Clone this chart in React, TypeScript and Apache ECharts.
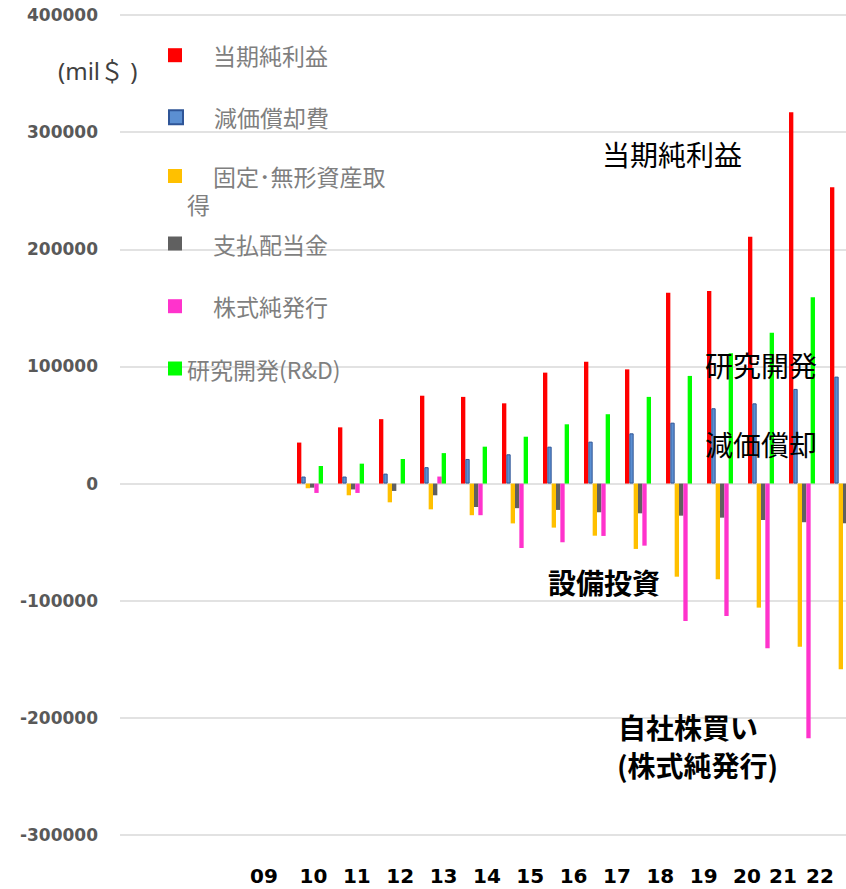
import React, { useEffect, useRef } from 'react';
import * as echarts from 'echarts';

// Fiscal years (20xx) on the category axis
const years = ['09', '10', '11', '12', '13', '14', '15', '16', '17', '18', '19', '20', '21', '22'];

// Values in million US$
const netIncome = [35000, 48000, 55000, 75000, 74000, 68500, 94700, 104000, 97500, 163000, 164400, 210800, 317000, 253000];
const depreciation = [6000, 6000, 8500, 14000, 21000, 25000, 31500, 35800, 42900, 52000, 64300, 68500, 80800, 91300];
const capex = [-4000, -10000, -16000, -22000, -27000, -34000, -37600, -44500, -55800, -79500, -81700, -105900, -139200, -158500];
const dividends = [-3500, -5000, -6300, -10000, -20000, -21000, -22500, -24500, -25400, -27400, -29100, -31100, -33000, -33900];
const netIssuance = [-8000, -8000, 0, 6000, -27000, -55000, -50100, -44700, -53000, -117300, -113000, -140600, -217400, -205000];
const rnd = [15000, 17000, 21000, 26000, 31500, 40000, 50600, 59200, 74000, 91900, 111200, 128800, 159000, 195000];

const seriesNames = ['当期純利益', '減価償却費', '固定･無形資産取得', '支払配当金', '株式純発行', '研究開発(R&D)'];
const seriesValues = [netIncome, depreciation, capex, dividends, netIssuance, rnd];
const seriesColors = ['#ff0000', '#5b8fd2', '#ffc000', '#606060', '#ff33cc', '#00ff00'];

const unitLabel = '(mil＄ )';
const notes = ['当期純利益', '研究開発', '減価償却', '設備投資', '自社株買い', '(株式純発行)'];

// horizontal nudges of individual year labels (px, negative = left)
const labelShift = [-6.2, 0, 0, 0, 0, 0, 0, 0, 0, 0, 0, 0, -7.4, -13.7];

export default function App() {
  const ref = useRef<HTMLDivElement>(null);

  useEffect(() => {
    if (!ref.current) return;
    const chart = echarts.init(ref.current, null, { renderer: 'svg' });

    const legendTops = [43.7, 105.7, 134, 232, 294.7, 357];
    const legends = seriesNames.map((name, i) => ({
      data: [name],
      left: 168,
      top: legendTops[i],
      orient: 'vertical',
      padding: 0,
      itemWidth: 14,
      itemHeight: 14,
      icon: 'rect',
      selectedMode: false,
      formatter: i === 2 ? '\n{i|固定･無形資産取}\n得' : i === 5 ? '{name}' : '{i|{name}}',
      textStyle: {
        color: '#7f7f7f',
        fontSize: 23,
        fontFamily: 'Noto Sans CJK JP',
        lineHeight: i === 2 ? 28 : 14,
        rich: { i: { padding: [0, 0, 0, 26] } },
      },
    }));

    const labelRich: Record<string, any> = {};
    labelShift.forEach((d, i) => {
      labelRich['s' + i] = { padding: d < 0 ? [0, -2 * d, 0, 0] : [0, 0, 0, 2 * d] };
    });

    const noteStyle = (text: string, x: number, y: number, bold: boolean) => ({
      type: 'text',
      x,
      y,
      z: 100,
      style: {
        text,
        fontSize: 28,
        fontFamily: 'Noto Sans CJK JP',
        fontWeight: bold ? 'bold' : 'normal',
        fill: '#000000',
        verticalAlign: 'middle',
      },
    });

    const option: any = {
      animation: false,
      backgroundColor: '#ffffff',
      grid: [
        { left: 120, top: 15, width: 726, height: 820, outerBoundsMode: 'none' },
        { left: 289.5, top: 15, width: 574, height: 820, outerBoundsMode: 'none' },
        { left: 248.5, top: 835, width: 606.9, height: 1, outerBoundsMode: 'none' },
      ],
      xAxis: [
        { gridIndex: 0, type: 'value', min: 0, max: 1, show: false },
        { gridIndex: 1, type: 'category', data: years, show: false },
        {
          gridIndex: 2,
          type: 'category',
          data: years,
          axisLine: { show: false },
          axisTick: { show: false },
          axisLabel: {
            margin: 39.5,
            verticalAlign: 'middle',
            fontFamily: 'DejaVu Sans',
            fontWeight: 'bold',
            fontSize: 20,
            color: '#000000',
            interval: 0,
            formatter: (v: string, i: number) => `{s${i}|${v}}`,
            rich: labelRich,
          },
        },
      ],
      yAxis: [
        {
          gridIndex: 0,
          type: 'value',
          min: -300000,
          max: 400000,
          interval: 100000,
          axisLine: { show: false },
          axisTick: { show: false },
          splitLine: { lineStyle: { color: '#d9d9d9', width: 1.5 } },
          axisLabel: {
            margin: 22,
            fontFamily: 'DejaVu Sans',
            fontWeight: 'bold',
            fontSize: 17,
            color: '#595959',
            formatter: (v: number) => String(v),
          },
        },
        { gridIndex: 1, type: 'value', min: -300000, max: 400000, interval: 100000, show: false },
        { gridIndex: 2, type: 'value', show: false },
      ],
      legend: legends,
      series: seriesNames.map((name, i) => ({
        name,
        type: 'bar',
        xAxisIndex: 1,
        yAxisIndex: 1,
        data: seriesValues[i],
        barWidth: 4.33,
        barGap: '0%',
        itemStyle: i === 1
          ? { color: seriesColors[i], borderColor: '#2f5597', borderWidth: 1 }
          : { color: seriesColors[i] },
      })),
      graphic: {
        elements: [
          {
            type: 'text',
            x: 58,
            y: 70,
            z: 100,
            style: {
              text: unitLabel,
              fontSize: 24,
              fontFamily: 'Noto Sans, Noto Sans CJK JP',
              fill: '#404040',
              verticalAlign: 'middle',
            },
          },
          noteStyle(notes[0], 602, 154, false),
          noteStyle(notes[1], 705, 365, false),
          noteStyle(notes[2], 705, 444, false),
          noteStyle(notes[3], 548, 582, true),
          noteStyle(notes[4], 618, 727, true),
          noteStyle(notes[5], 617, 765, true),
        ],
      },
    };

    chart.setOption(option);
    return () => chart.dispose();
  }, []);

  return (
    <div
      ref={ref}
      style={{ position: 'fixed', left: 0, top: 0, width: 846, height: 889 }}
    />
  );
}
